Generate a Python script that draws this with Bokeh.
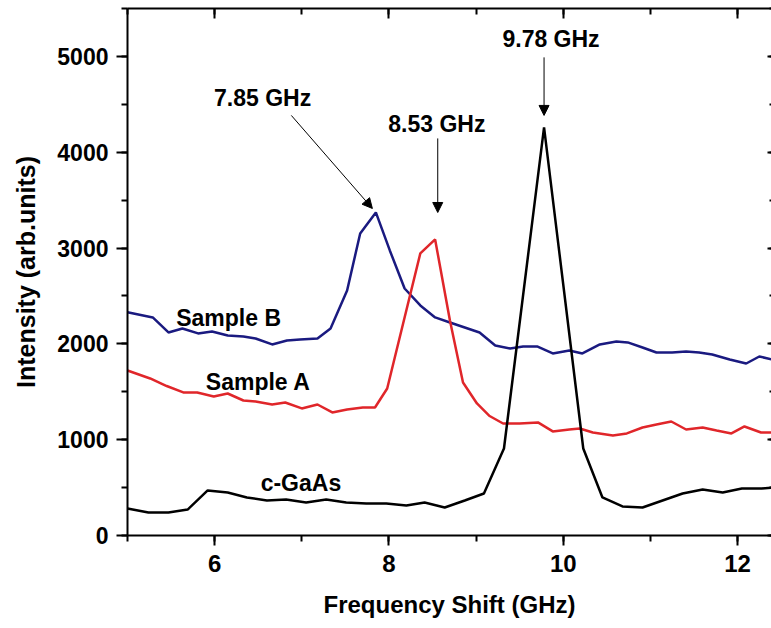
from bokeh.plotting import figure
from bokeh.models import (LinearAxis, SingleIntervalTicker, Arrow, NormalHead, Range1d,
                          CustomJSTickFormatter)
from bokeh.core.properties import value
from bokeh.embed import file_html
from bokeh.resources import INLINE

# Brillouin spectra: frequency shift (GHz) vs intensity (arb. units)
gaas_x = [5.0, 5.24, 5.47, 5.69, 5.92, 6.15, 6.37, 6.6, 6.82, 7.05, 7.28, 7.51, 7.74,
          7.97, 8.2, 8.41, 8.64, 8.87, 9.09, 9.32, 9.78, 10.23, 10.45, 10.68, 10.91,
          11.14, 11.37, 11.6, 11.83, 12.05, 12.28, 12.40]
gaas_y = [282, 240, 240, 271, 470, 449, 397, 365, 376, 344, 376, 344, 334,
          334, 313, 344, 292, 365, 438, 908, 4260, 908, 397, 303, 292,
          365, 438, 480, 449, 490, 490, 500]

sample_a_x = [5.0, 5.26, 5.45, 5.64, 5.80, 5.99, 6.15, 6.33, 6.47, 6.66, 6.81, 7.0, 7.18,
              7.35, 7.52, 7.70, 7.84, 7.98, 8.36, 8.53, 8.70, 8.85, 9.01, 9.15, 9.31,
              9.50, 9.71, 9.88, 10.07, 10.19, 10.34, 10.57, 10.73, 10.91, 11.07, 11.24,
              11.41, 11.60, 11.76, 11.93, 12.08, 12.27, 12.40]
sample_a_y = [1722, 1639, 1560, 1493, 1493, 1451, 1482, 1409, 1399, 1367, 1388, 1326, 1367,
              1284, 1315, 1336, 1336, 1534, 2944, 3090, 2244, 1597, 1378, 1250, 1169,
              1169, 1180, 1086, 1106, 1117, 1075, 1044, 1065, 1127, 1159, 1190,
              1106, 1127, 1096, 1065, 1138, 1075, 1075]

sample_b_x = [5.0, 5.29, 5.47, 5.63, 5.81, 5.97, 6.15, 6.33, 6.47, 6.66, 6.83, 6.98, 7.18,
              7.33, 7.52, 7.67, 7.85, 8.01, 8.18, 8.36, 8.53, 8.70, 8.87, 9.04, 9.22,
              9.39, 9.54, 9.70, 9.88, 10.07, 10.22, 10.42, 10.61, 10.74, 10.91, 11.07,
              11.25, 11.41, 11.56, 11.71, 11.91, 12.10, 12.25, 12.40]
sample_b_y = [2330, 2276, 2119, 2161, 2109, 2129, 2088, 2077, 2056, 1994, 2035, 2046, 2056,
              2161, 2557, 3152, 3372, 2975, 2578, 2401, 2276, 2223, 2171, 2119, 1983,
              1952, 1973, 1973, 1900, 1931, 1900, 1994, 2025, 2015, 1962, 1910,
              1910, 1921, 1910, 1889, 1837, 1795, 1868, 1837]

# curve names and peak annotations
label_text = ["Sample B", "Sample A", "c-GaAs", "7.85 GHz", "8.53 GHz", "9.78 GHz"]
label_x = [6.16, 6.50, 6.99, 6.55, 8.55, 9.86]
label_y = [2265, 1597, 543, 4561, 4290, 5177]

arrow_x0 = [6.88, 8.56, 9.78]
arrow_y0 = [4384, 4144, 4990]
arrow_x1 = [7.81, 8.56, 9.78]
arrow_y1 = [3413, 3371, 4384]

FONT = "Liberation Sans"

p = figure(width=771, height=628, output_backend="svg", toolbar_location=None,
           x_range=Range1d(5, 12.39), y_range=Range1d(0, 5500),
           x_axis_location=None, y_axis_location=None,
           min_border_left=127, min_border_right=0, min_border_top=8,
           min_border_bottom=93)
p.outline_line_color = None
p.grid.visible = False
p.background_fill_color = "white"
p.border_fill_color = "white"

xt = SingleIntervalTicker(interval=2, num_minor_ticks=2)
yt = SingleIntervalTicker(interval=1000, num_minor_ticks=2)
blank = CustomJSTickFormatter(code="return '';")

bottom = LinearAxis(ticker=xt, axis_label="Frequency Shift (GHz)")
left = LinearAxis(ticker=yt, axis_label="Intensity (arb.units)")
top = LinearAxis(ticker=xt, formatter=blank)
right = LinearAxis(ticker=yt, formatter=blank)

for ax in (bottom, left, top, right):
    ax.axis_line_width = 2
    ax.major_tick_line_width = 2
    ax.minor_tick_line_width = 2
    ax.axis_line_color = "black"
    ax.major_label_text_font = FONT
    ax.major_label_text_font_style = "bold"
    ax.axis_label_text_font = FONT
    ax.axis_label_text_font_style = "bold"
    ax.axis_label_text_color = "black"
    ax.major_label_text_color = "black"

bottom.major_tick_out = 10
bottom.major_tick_in = 0
bottom.minor_tick_out = 6
bottom.minor_tick_in = 0
bottom.major_label_text_font_size = "24px"
bottom.major_label_standoff = 9
bottom.axis_label_text_font_size = "24px"
bottom.axis_label_standoff = 16

left.major_tick_out = 11
left.major_tick_in = 0
left.minor_tick_out = 6
left.minor_tick_in = 0
left.major_label_text_font_size = "23px"
left.major_label_standoff = 8
left.axis_label_text_font_size = "25px"
left.axis_label_standoff = 14

top.major_tick_in = 10
top.major_tick_out = 0
top.minor_tick_in = 6
top.minor_tick_out = 0
top.major_label_text_font_size = "1px"
top.major_label_standoff = 0

right.axis_line_color = None
right.major_tick_in = 4
right.major_tick_out = 0
right.minor_tick_in = 2
right.minor_tick_out = 0
right.major_label_text_font_size = "1px"
right.major_label_standoff = 0

p.add_layout(bottom, "below")
p.add_layout(left, "left")
p.add_layout(top, "above")
p.add_layout(right, "right")

p.line(sample_b_x, sample_b_y, line_color="#1a1a80", line_width=2.5)
p.line(sample_a_x, sample_a_y, line_color="#e0262a", line_width=2.5)
p.line(gaas_x, gaas_y, line_color="black", line_width=2.5)

p.text(x=label_x, y=label_y, text=label_text, text_font=value(FONT),
       text_font_style="bold", text_font_size="23px", text_color="black",
       text_align="center", text_baseline="middle")

for xs, ys, xe, ye in zip(arrow_x0, arrow_y0, arrow_x1, arrow_y1):
    p.add_layout(Arrow(end=NormalHead(size=10, fill_color="black", line_color="black",
                                      line_width=1),
                       x_start=xs, y_start=ys, x_end=xe, y_end=ye,
                       line_color="black", line_width=1))

open("out.html", "w").write(file_html(p, INLINE))
